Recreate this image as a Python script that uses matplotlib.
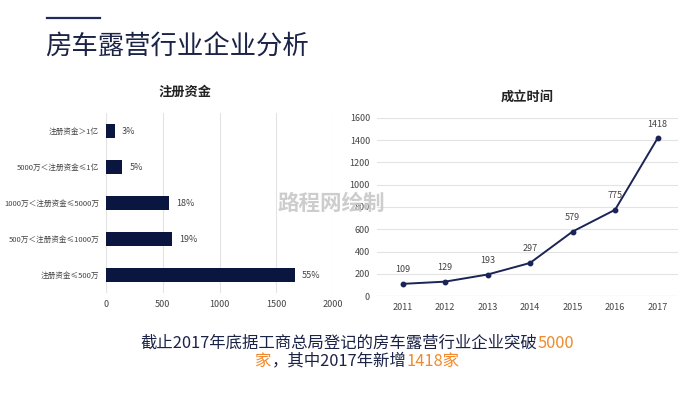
import numpy as np
import matplotlib.pyplot as plt

plt.rcParams['font.family'] = ['Noto Sans CJK SC', 'DejaVu Sans']

# 注册资金
cap_labels = ["注册资金＞1亿", "5000万＜注册资金≤1亿", "1000万＜注册资金≤5000万",
              "500万＜注册资金≤1000万", "注册资金≤500万"]
cap_values = [75, 145, 555, 585, 1665]
cap_pct = ["3%", "5%", "18%", "19%", "55%"]

# 成立时间
years = ["2011", "2012", "2013", "2014", "2015", "2016", "2017"]
counts = [109, 129, 193, 297, 579, 775, 1418]

navy = "#0b1640"
line_c = "#1b2456"
orange = "#f08a2c"
grid_c = "#e3e3e3"
tick_c = "#444444"

fig = plt.figure(figsize=(7, 3.93), dpi=100)

# 标题
fig.add_artist(plt.Line2D([47 / 700, 100 / 700], [1 - 18 / 393, 1 - 18 / 393],
                          color="#1f2b5a", lw=1.6))
fig.text(45 / 700, 1 - 47 / 393, "房车露营行业企业分析", fontsize=19, color="#1b2347",
         va="center", ha="left", weight="medium")

# 条形图
ax1 = fig.add_axes([106 / 700, 1 - 293 / 393, 227 / 700, 180 / 393])
ypos = np.arange(len(cap_labels))[::-1]
ax1.barh(ypos, cap_values, height=0.37, color=navy, zorder=3)
ax1.set_xlim(0, 2000)
ax1.set_ylim(-0.5, 4.5)
ax1.set_xticks([0, 500, 1000, 1500, 2000])
ax1.set_yticks(ypos)
ax1.set_yticklabels(cap_labels, fontsize=5.5, color=tick_c)
ax1.tick_params(axis='x', labelsize=6.5, colors=tick_c, length=0, pad=5)
ax1.tick_params(axis='y', length=0, pad=5)
ax1.grid(axis='x', color=grid_c, lw=0.8, zorder=0)
for s in ax1.spines.values():
    s.set_visible(False)
for y, v, p in zip(ypos, cap_values, cap_pct):
    ax1.annotate(p, (v, y), xytext=(5, 0), textcoords="offset points",
                 va="center", ha="left", fontsize=6.5, color=tick_c)
fig.text(185 / 700, 1 - 92 / 393, "注册资金", fontsize=9.5, weight="bold",
         ha="center", va="center", color="#222222")

# 折线图
ax2 = fig.add_axes([377 / 700, 1 - 296 / 393, 301 / 700, 178 / 393])
x = np.arange(len(years))
ax2.plot(x, counts, color=line_c, lw=1.4, marker="o", ms=3.2, zorder=3)
ax2.set_xlim(-0.6, 6.48)
ax2.set_ylim(0, 1600)
ax2.set_yticks(range(0, 1601, 200))
ax2.set_xticks(x)
ax2.set_xticklabels(years)
ax2.tick_params(labelsize=6.5, colors=tick_c, length=0, pad=5)
ax2.grid(axis='y', color=grid_c, lw=0.8, zorder=0)
for s in ax2.spines.values():
    s.set_visible(False)
ax2.axhline(0, color="#cccccc", lw=0.8, zorder=1)
for xi, v in zip(x, counts):
    ax2.annotate(str(v), (xi, v), xytext=(0, 7), textcoords="offset points",
                 ha="center", va="bottom", fontsize=6.5, color=tick_c)
fig.text(527 / 700, 1 - 97 / 393, "成立时间", fontsize=9.5, weight="bold",
         ha="center", va="center", color="#222222")

# 水印
fig.text(331 / 700, 1 - 203 / 393, "路程网绘制", fontsize=15.5, weight="bold",
         ha="center", va="center", color="#c8c8c8", alpha=0.9, zorder=10)

# 底部说明, 分段着色
renderer = fig.canvas.get_renderer()


def colored_line(parts, yc, fs=11.8):
    texts = []
    for s, c in parts:
        t = fig.text(0, yc, s, fontsize=fs, color=c, ha="left", va="center")
        texts.append(t)
    widths = [t.get_window_extent(renderer).width for t in texts]
    total = sum(widths)
    x0 = (357 - total / 2)
    for t, w in zip(texts, widths):
        t.set_x(x0 / 700)
        x0 += w


colored_line([("截止2017年底据工商总局登记的房车露营行业企业突破", "#1b2347"),
              ("5000", orange)], 1 - 343 / 393)
colored_line([("家", orange), ("，其中2017年新增", "#1b2347"), ("1418家", orange)],
             1 - 361 / 393)

fig.savefig("out.png", dpi=100)
